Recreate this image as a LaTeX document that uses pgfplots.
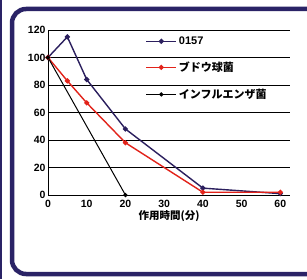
\documentclass[border=0pt]{standalone}
\usepackage{pgfplots}
\pgfplotsset{compat=1.18}
\usepackage{fontspec}
\setmainfont{Liberation Sans}
\newfontfamily\jp{Noto Sans CJK JP}
\definecolor{navy}{HTML}{2B1F5E}
\definecolor{myred}{HTML}{E2231A}
\definecolor{frame}{HTML}{2A2366}
\begin{document}
\begin{tikzpicture}[x=1pt,y=1pt]
\useasboundingbox (0,0) rectangle (307,279);
\fill[white] (0,0) rectangle (307,279);
\fill[frame] (0,0) rectangle (2,279);
\begin{scope}
\clip (0,0) rectangle (307,279);
\draw[frame, line width=4.5pt, rounded corners=14pt] (12,5) rectangle (330,270);
\end{scope}
\begin{axis}[
  at={(48pt,84pt)}, anchor=south west,
  scale only axis, width=242pt, height=165pt,
  xmin=0, xmax=62.5, ymin=0, ymax=120,
  xtick={0,10,...,60}, ytick={0,20,...,120},
  axis x line*=bottom, axis y line*=left,
  axis line style={-, black, line width=0.9pt},
  major tick length=0pt,
  ymajorgrids, grid style={black, line width=0.8pt},
  tick label style={font=\bfseries\fontsize{10.5}{11}\selectfont},
  /pgf/number format/assume math mode=true,
  yticklabel style={xshift=1pt},
  xticklabel style={yshift=-2pt},
  xlabel={\jp\bfseries 作用時間(分)},
  xlabel style={font=\fontsize{10.5}{11}\selectfont, yshift=4pt},
  legend style={at={(0.39,0.985)}, anchor=north west, draw=none, fill=none,
    font=\fontsize{11}{12}\selectfont, row sep=12pt, cells={anchor=west}},
  legend image code/.code={\draw[mark repeat=2,mark phase=2,#1] plot coordinates {(0pt,0pt) (15pt,0pt) (30pt,0pt)};},
  clip=false,
]
\addplot[navy, line width=1.4pt, mark=*, mark size=1.8pt] coordinates {(0,100) (5,115) (10,84) (20,48) (40,5) (60,1)};
\addlegendentry{\bfseries 0157}
\addplot[myred, line width=1.4pt, mark=*, mark size=1.8pt] coordinates {(0,100) (5,83) (10,67) (20,38) (40,2) (60,2)};
\addlegendentry{\jp\bfseries ブドウ球菌}
\addplot[black, line width=1pt, mark=*, mark size=1.6pt] coordinates {(0,100) (20,0)};
\addlegendentry{\jp\bfseries インフルエンザ菌}
\end{axis}
\end{tikzpicture}
\end{document}
